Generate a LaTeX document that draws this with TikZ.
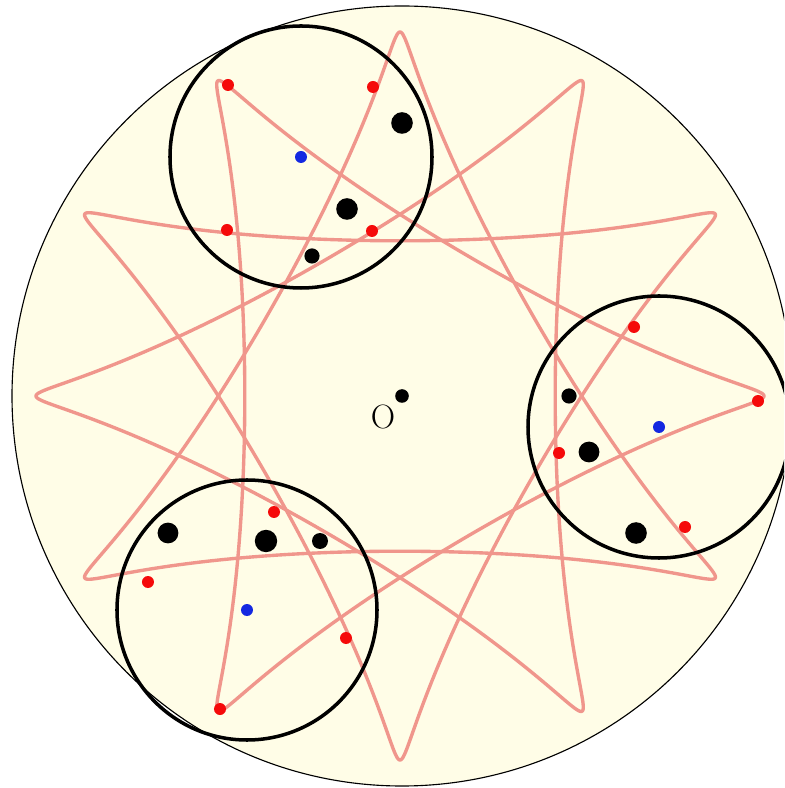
\documentclass[tikz,border=0pt]{standalone}
\definecolor{cream}{RGB}{255,253,231}
\definecolor{orbitpink}{RGB}{240,150,140}
\definecolor{dotred}{RGB}{245,10,10}
\definecolor{dotblue}{RGB}{20,40,225}
\begin{document}
\begin{tikzpicture}[
		orbit/.style={draw=orbitpink, line width=2.4pt, line join=round},
		ring/.style={draw=black, line width=2.5pt},
		reddot/.style={fill=dotred},
		bluedot/.style={fill=dotblue},
		blackdot/.style={fill=black}
	]
		\useasboundingbox (-10,-9.8) rectangle (9.6,9.9);
		\clip (-10,-9.8) rectangle (9.6,9.9);
		% disc
		\filldraw[fill=cream, draw=black, line width=0.8pt] (0.05,0) circle (9.75);
		% orbit: four rotated curved triangles
		\draw[orbit] plot[domain=0:360, samples=361, variable=\t] ({6.49*cos(\t)+2.69*cos(2*\t)-0.08*cos(4*\t)}, {6.49*sin(\t)-2.69*sin(2*\t)-0.08*sin(4*\t)}) -- cycle;
		\draw[orbit, rotate=30] plot[domain=0:360, samples=361, variable=\t] ({6.49*cos(\t)+2.69*cos(2*\t)-0.08*cos(4*\t)}, {6.49*sin(\t)-2.69*sin(2*\t)-0.08*sin(4*\t)}) -- cycle;
		\draw[orbit, rotate=60] plot[domain=0:360, samples=361, variable=\t] ({6.49*cos(\t)+2.69*cos(2*\t)-0.08*cos(4*\t)}, {6.49*sin(\t)-2.69*sin(2*\t)-0.08*sin(4*\t)}) -- cycle;
		\draw[orbit, rotate=90] plot[domain=0:360, samples=361, variable=\t] ({6.49*cos(\t)+2.69*cos(2*\t)-0.08*cos(4*\t)}, {6.49*sin(\t)-2.69*sin(2*\t)-0.08*sin(4*\t)}) -- cycle;
		% the three circles
		\draw[ring] (-2.475,5.975) circle (3.275);
		\draw[ring] (6.475,-0.775) circle (3.275);
		\draw[ring] (-3.825,-5.35) circle (3.25);
		% red dots
		\fill[reddot] (-4.3,7.775) circle (0.15);
		\fill[reddot] (-0.675,7.725) circle (0.15);
		\fill[reddot] (-4.325,4.15) circle (0.15);
		\fill[reddot] (-0.7,4.125) circle (0.15);
		\fill[reddot] (5.85,1.725) circle (0.15);
		\fill[reddot] (8.95,-0.125) circle (0.15);
		\fill[reddot] (3.975,-1.425) circle (0.15);
		\fill[reddot] (7.125,-3.275) circle (0.15);
		\fill[reddot] (-3.15,-2.9) circle (0.15);
		\fill[reddot] (-1.35,-6.05) circle (0.15);
		\fill[reddot] (-4.5,-7.825) circle (0.15);
		\fill[reddot] (-6.3,-4.65) circle (0.15);
		% blue dots
		\fill[bluedot] (-2.475,5.975) circle (0.15);
		\fill[bluedot] (6.475,-0.775) circle (0.15);
		\fill[bluedot] (-3.825,-5.35) circle (0.15);
		% black dots
		\fill[blackdot] (0.05,6.825) circle (0.27);
		\fill[blackdot] (-1.325,4.675) circle (0.27);
		\fill[blackdot] (-2.2,3.5) circle (0.19);
		\fill[blackdot] (4.225,0) circle (0.19);
		\fill[blackdot] (4.725,-1.4) circle (0.26);
		\fill[blackdot] (5.9,-3.425) circle (0.27);
		\fill[blackdot] (-5.8,-3.425) circle (0.26);
		\fill[blackdot] (-3.35,-3.625) circle (0.28);
		\fill[blackdot] (-2.0,-3.625) circle (0.2);
		\fill[blackdot] (0.05,0) circle (0.17);
		\node[font=\fontsize{24}{24}\selectfont] (O) at (-0.425,-0.525) {O};
\end{tikzpicture}
\end{document}
